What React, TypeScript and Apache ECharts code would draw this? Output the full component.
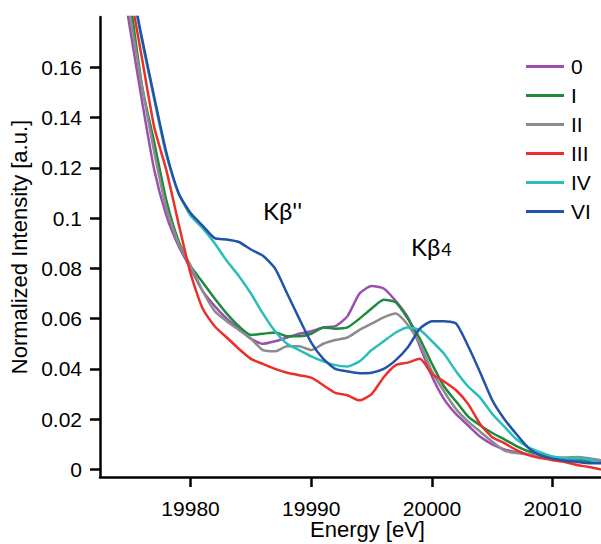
import React, { useEffect, useRef } from "react";
import * as echarts from "echarts";

const energy = [
  19974, 19975, 19976, 19977, 19978, 19979, 19980, 19981, 19982, 19983,
  19984, 19985, 19986, 19987, 19988, 19989, 19990, 19991, 19992, 19993,
  19994, 19995, 19996, 19997, 19998, 19999, 20000, 20001, 20002, 20003,
  20004, 20005, 20006, 20007, 20008, 20009, 20010, 20011, 20012, 20013, 20014,
];

const s0 = [
  0.205, 0.175, 0.146, 0.119, 0.101, 0.089, 0.08, 0.071, 0.065, 0.06,
  0.056, 0.052, 0.05, 0.051, 0.0525, 0.054, 0.055, 0.0565, 0.057, 0.061,
  0.07, 0.073, 0.072, 0.067, 0.0605, 0.049, 0.037, 0.028, 0.022, 0.0175,
  0.013, 0.01, 0.008, 0.0068, 0.006, 0.005, 0.0045, 0.004, 0.0035, 0.003, 0.0028,
];
const s1 = [
  0.215, 0.186, 0.152, 0.13, 0.107, 0.091, 0.081, 0.0745, 0.068, 0.062,
  0.057, 0.0535, 0.054, 0.0545, 0.053, 0.053, 0.054, 0.0565, 0.056, 0.0565,
  0.06, 0.064, 0.0675, 0.0665, 0.06, 0.052, 0.042, 0.033, 0.027, 0.021,
  0.0175, 0.0145, 0.012, 0.0093, 0.0072, 0.006, 0.005, 0.0045, 0.0042, 0.0035, 0.003,
];
const s2 = [
  0.21, 0.18, 0.152, 0.126, 0.104, 0.09, 0.081, 0.071, 0.063, 0.059,
  0.0555, 0.052, 0.0475, 0.047, 0.049, 0.049, 0.0475, 0.05, 0.0515, 0.0525,
  0.0555, 0.058, 0.0605, 0.062, 0.0575, 0.05, 0.039, 0.031, 0.024, 0.019,
  0.015, 0.011, 0.0075, 0.0065, 0.006, 0.005, 0.0045, 0.0048, 0.005, 0.0045, 0.0037,
];
const s3 = [
  0.22, 0.19, 0.163, 0.136, 0.119, 0.098, 0.078, 0.064, 0.057, 0.0525,
  0.048, 0.044, 0.042, 0.04, 0.0385, 0.0375, 0.0365, 0.0335, 0.0305, 0.0295,
  0.0275, 0.03, 0.0367, 0.0415, 0.0425, 0.044, 0.038, 0.035, 0.0315, 0.026,
  0.018, 0.0128, 0.0105, 0.0077, 0.0057, 0.0045, 0.0037, 0.003, 0.0018, 0.001, 0.0,
];
const s4 = [
  0.23, 0.195, 0.17, 0.147, 0.125, 0.11, 0.101, 0.096, 0.09, 0.083,
  0.077, 0.07, 0.062, 0.055, 0.05, 0.0475, 0.045, 0.043, 0.0415, 0.041,
  0.043, 0.0475, 0.051, 0.0545, 0.0565, 0.0555, 0.051, 0.046, 0.039, 0.033,
  0.0285, 0.022, 0.017, 0.012, 0.0088, 0.0068, 0.0052, 0.0045, 0.0045, 0.004, 0.0025,
];
const s5 = [
  0.23, 0.196, 0.171, 0.148, 0.126, 0.11, 0.102, 0.097, 0.092, 0.0915,
  0.0905, 0.0875, 0.085, 0.08, 0.07, 0.06, 0.0505, 0.044, 0.04, 0.039,
  0.0383, 0.0385, 0.04, 0.0435, 0.0486, 0.056, 0.059, 0.059, 0.058, 0.049,
  0.0385, 0.0275, 0.02, 0.014, 0.0085, 0.0055, 0.0043, 0.0035, 0.003, 0.0025, 0.0025,
];

const seriesNames = ["0", "I", "II", "III", "IV", "VI"];
const seriesValues = [s0, s1, s2, s3, s4, s5];
const seriesColors = ["#9b4fae", "#1e8a3e", "#8c8c8c", "#ec2f2a", "#2bbdbd", "#2253a8"];

const yTicks = [0, 0.02, 0.04, 0.06, 0.08, 0.1, 0.12, 0.14, 0.16];

const FONT = "Liberation Sans";

export default function App() {
  const ref = useRef<HTMLDivElement>(null);

  useEffect(() => {
    document.body.style.margin = "0";
    if (!ref.current) return;
    const chart = echarts.init(ref.current, undefined, { renderer: "svg" });
    chart.setOption({
      animation: false,
      backgroundColor: "#ffffff",
      grid: { left: 100, right: 0, top: 17, bottom: 67, containLabel: false, outerBoundsMode: "none" },
      xAxis: {
        type: "value",
        min: 19972.5,
        max: 20014,
        splitNumber: 4,
        name: "Energy [eV]",
        nameLocation: "middle",
        nameGap: 41,
        nameMoveOverlap: false,
        nameTextStyle: {
          fontFamily: FONT,
          fontSize: 22,
          lineHeight: 22,
          color: "#000",
          padding: [0, 0, 0, 34],
          verticalAlign: "top",
        },
        axisLine: { show: true, onZero: false, lineStyle: { color: "#000", width: 2.5 } },
        axisTick: { show: true, length: 10, inside: false, lineStyle: { color: "#000", width: 2.5 } },
        axisLabel: {
          showMinLabel: false,
          showMaxLabel: false,
          fontFamily: FONT,
          fontSize: 21,
          lineHeight: 18,
          color: "#000",
          margin: 22,
          formatter: (v: number) => String(v),
        },
        splitLine: { show: false },
      },
      yAxis: {
        type: "value",
        min: -0.003,
        max: 0.18,
        name: "Normalized Intensity [a.u.]",
        nameLocation: "middle",
        nameGap: 70,
        nameMoveOverlap: false,
        nameTextStyle: { fontFamily: FONT, fontSize: 22, color: "#000" },
        axisLine: { show: true, onZero: false, lineStyle: { color: "#000", width: 2.5 } },
        axisTick: { show: true, length: 10, inside: false, customValues: yTicks, lineStyle: { color: "#000", width: 2.5 } },
        axisLabel: {
          customValues: yTicks,
          fontFamily: FONT,
          fontSize: 21,
          color: "#000",
          margin: 18,
          formatter: (v: number) => String(+v.toFixed(2)),
        },
        splitLine: { show: false },
      },
      legend: {
        orient: "vertical",
        left: 521,
        top: 51,
        icon: "rect",
        itemWidth: 38,
        itemHeight: 3,
        itemGap: 8,
        data: seriesNames,
        textStyle: { fontFamily: FONT, fontSize: 21, color: "#000", lineHeight: 20, padding: [0, 0, 0, 2] },
      },
      series: seriesNames.map((name, i) => ({
        name,
        type: "line",
        symbol: "none",
        showSymbol: false,
        smooth: 0.2,
        clip: true,
        data: energy.map((e, j) => [e, seriesValues[i][j]]),
        lineStyle: { color: seriesColors[i], width: 2.5 },
        itemStyle: { color: seriesColors[i] },
      })),
      graphic: [
        {
          type: "text",
          left: 263,
          top: 198,
          style: { text: "Kβ''", fontFamily: "Lato", fontSize: 24, fill: "#000" },
        },
        {
          type: "text",
          left: 411,
          top: 234,
          style: {
            text: "{a|Kβ}{b|4}",
            fill: "#000",
            rich: {
              a: { fontFamily: "Lato", fontSize: 24, fill: "#000", verticalAlign: "bottom" },
              b: { fontFamily: "Lato", fontSize: 18, fill: "#000", verticalAlign: "bottom", padding: [0, 0, 0, 1] },
            },
          },
        },
      ],
    });
    return () => chart.dispose();
  }, []);

  return <div ref={ref} style={{ width: 601, height: 544 }} />;
}
